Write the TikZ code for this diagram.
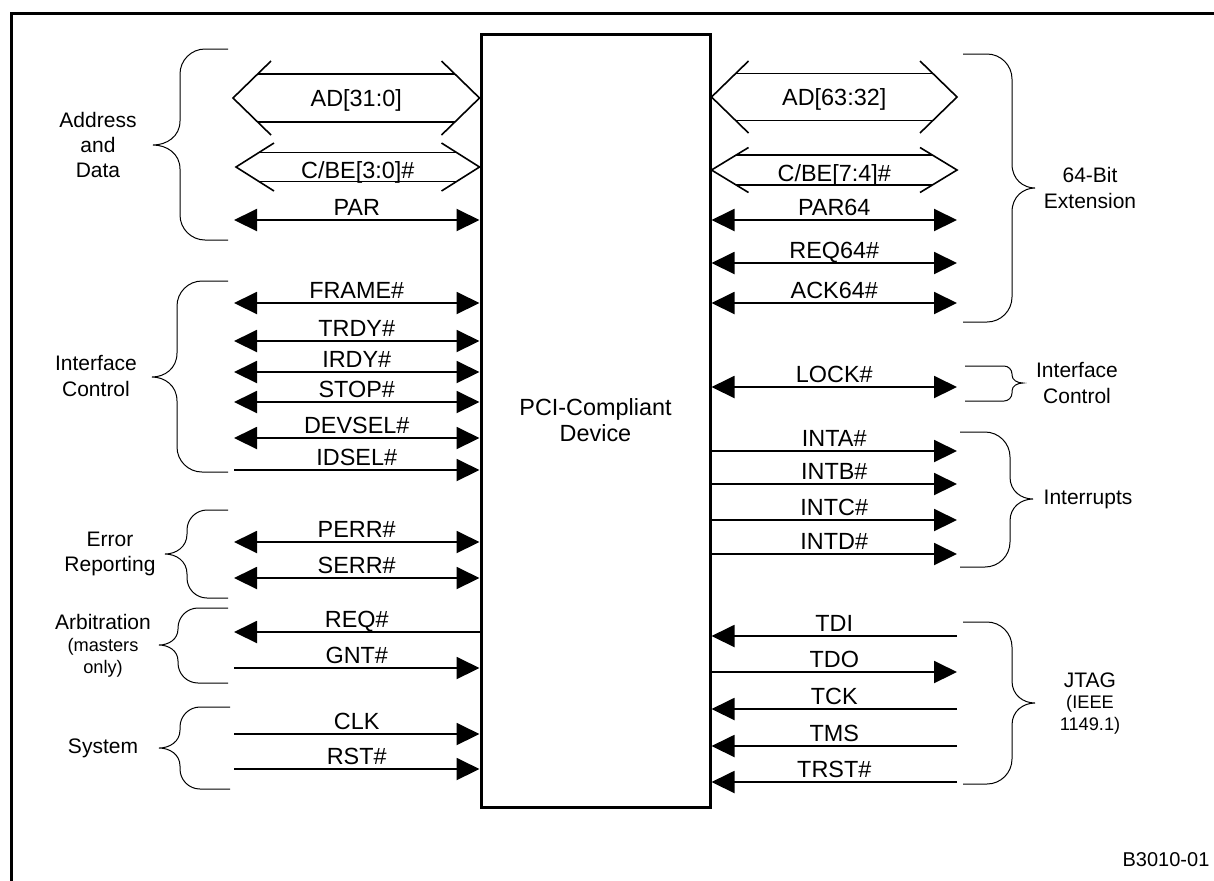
\documentclass[tikz,border=0pt]{standalone}
\usepackage{fontspec}
\setmainfont{Liberation Sans}
\usetikzlibrary{arrows.meta, calc}
\tikzset{
  devbox/.style={rectangle, draw=black, line width=1.5pt,
                 minimum width=114.5pt, minimum height=386.5pt, align=center,
                 font=\fontsize{11.7}{13}\selectfont},
  sigline/.style={line width=1pt, >={Triangle[length=11.5pt, width=11pt]}},
  bothway/.style={<->},
  tobox/.style={->},
  frombox/.style={<-},
  siglabel/.style={anchor=base, yshift=2.5pt, inner sep=0pt,
                   font=\fontsize{11.7}{13}\selectfont},
  buslabel/.style={anchor=base, inner sep=0pt,
                   font=\fontsize{11.7}{13}\selectfont},
  busline/.style={line width=0.8pt},
  bracepath/.style={line width=0.5pt},
  grouplabel/.style={align=center, inner sep=0pt,
                     font=\fontsize{10.5}{12.7}\selectfont},
  notelabel/.style={align=center, inner sep=0pt,
                    font=\fontsize{9.1}{11.2}\selectfont},
  figid/.style={inner sep=0pt, font=\fontsize{10}{12}\selectfont},
  framestyle/.style={line width=1.5pt},
}
% bus: left tip, right tip, arm dx, arm dy, half gap
\newcommand{\drawbus}[5]{%
  \draw[busline] ($(#1)+(#3,-#4)$) -- (#1) -- ($(#1)+(#3,#4)$);
  \draw[busline] ($(#2)+(-#3,-#4)$) -- (#2) -- ($(#2)+(-#3,#4)$);
  \draw[busline] ($(#1)+({#5*#3/#4},-#5)$) -- ($(#2)+({-#5*#3/#4},-#5)$);
  \draw[busline] ($(#1)+({#5*#3/#4},#5)$) -- ($(#2)+({-#5*#3/#4},#5)$);
}
% brace: ends x, spine x, tip x, top y, tip y, bottom y, corner, cusp
\newcommand{\sidebrace}[8]{%
  \pgfmathsetmacro\brs{(#1>#2 ? 1 : -1)*#7}
  \draw[bracepath] (#1,#4) -- ({#2+\brs},#4)
    .. controls ({#2+0.45*\brs},#4) and (#2,{#4+0.45*#7}) .. (#2,{#4+#7})
    -- (#2,{#5-#8})
    .. controls (#2,{#5-0.35*#8}) and ({#2+0.5*(#3-#2)},#5) .. (#3,#5)
    .. controls ({#2+0.5*(#3-#2)},#5) and (#2,{#5+0.35*#8}) .. (#2,{#5+#8})
    -- (#2,{#6-#7})
    .. controls (#2,{#6-0.45*#7}) and ({#2+0.45*\brs},#6) .. ({#2+\brs},#6)
    -- (#1,#6);
}

\begin{document}
\begin{tikzpicture}[x=0.5pt, y=-0.5pt, font=\fontsize{11.7}{13}\selectfont]
    \useasboundingbox (0,0) rectangle (1214,880);
    \draw[framestyle] (11,882) -- (11,13) -- (1216,13);
    \node[devbox] (dev) at (595.5,420.5) {PCI-Compliant\\Device};

    % buses
    \coordinate (adlo-l) at (233,98);
    \coordinate (adlo-r) at (adlo-l -| dev.west);
    \drawbus{adlo-l}{adlo-r}{38}{37}{24}
    \node[buslabel] (adlo) at ($(adlo-l)!0.5!(adlo-r)+(0,8.5)$) {AD[31:0]};
    \coordinate (cbelo-l) at (236,167);
    \coordinate (cbelo-r) at (cbelo-l -| dev.west);
    \drawbus{cbelo-l}{cbelo-r}{38}{24}{14.5}
    \node[buslabel] (cbelo) at ($(cbelo-l)!0.5!(cbelo-r)+(0,11)$) {C/BE[3:0]\#};
    \coordinate (adhi-r) at (957,97);
    \coordinate (adhi-l) at (adhi-r -| dev.east);
    \drawbus{adhi-l}{adhi-r}{37}{36}{23.5}
    \node[buslabel] (adhi) at ($(adhi-l)!0.5!(adhi-r)+(0,8)$) {AD[63:32]};
    \coordinate (cbehi-r) at (957,170);
    \coordinate (cbehi-l) at (cbehi-r -| dev.east);
    \drawbus{cbehi-l}{cbehi-r}{37}{22.5}{15}
    \node[buslabel] (cbehi) at ($(cbehi-l)!0.5!(cbehi-r)+(0,11.5)$) {C/BE[7:4]\#};

    % left signals
    \foreach \y/\txt/\dir [count=\i] in {220/PAR/bothway, 303/FRAME\#/bothway,
        341/TRDY\#/bothway, 372/IRDY\#/bothway, 402/STOP\#/bothway,
        438/DEVSEL\#/bothway, 470/IDSEL\#/tobox, 542/PERR\#/bothway,
        578/SERR\#/bothway, 632/REQ\#/frombox, 668/GNT\#/tobox,
        734/CLK/tobox, 769/RST\#/tobox} {
      \coordinate (l\i) at (234,\y);
      \draw[sigline,\dir] (l\i) -- (l\i -| dev.west) node[siglabel, midway] (ll\i) {\txt};
    }
    % right signals
    \foreach \y/\txt/\dir [count=\i] in {220/PAR64/bothway, 263/REQ64\#/bothway,
        303/ACK64\#/bothway, 387/LOCK\#/bothway, 451/INTA\#/frombox,
        484/INTB\#/frombox, 520/INTC\#/frombox, 554/INTD\#/frombox,
        636/TDI/tobox, 672/TDO/frombox, 709/TCK/tobox, 746/TMS/tobox,
        782/TRST\#/tobox} {
      \coordinate (r\i) at (957,\y);
      \draw[sigline,\dir] (r\i) -- (r\i -| dev.east) node[siglabel, midway] (rl\i) {\txt};
    }

    % braces
    \sidebrace{228}{180}{153}{49}{145}{240}{25}{24}
    \sidebrace{228}{177}{152}{281}{377}{472}{25}{24}
    \sidebrace{228}{187}{165}{510}{554}{598}{20}{20}
    \sidebrace{228}{178}{159}{608}{645}{683}{20}{16}
    \sidebrace{230}{180}{159}{707}{748}{789}{20}{18}
    \sidebrace{963}{1012}{1035}{54}{188}{322}{25}{24}
    \sidebrace{965}{1012}{1023}{366}{383}{401}{8}{8}
    \sidebrace{960}{1010}{1033}{432}{499}{567}{25}{22}
    \sidebrace{963}{1012}{1035}{622}{703}{784}{25}{22}

    % group names
    \node[grouplabel] (addrlbl) at (98,145) {Address\\and\\Data};
    \node[grouplabel] (ifclbl) at (96,376) {Interface\\Control};
    \node[grouplabel] (errlbl) at (110,554) {Error\\Reporting};
    \node[grouplabel] (arblbl) at (103,622) {Arbitration};
    \node[notelabel] (arbnote) at (103,658) {(masters\\only)};
    \node[grouplabel] (syslbl) at (103,748) {System};
    \node[grouplabel] (extlbl) at (1090,188) {64-Bit\\Extension};
    \node[grouplabel] (lockgrp) at (1077,383) {Interface\\Control};
    \node[grouplabel] (intlbl) at (1088,499) {Interrupts};
    \node[grouplabel] (jtaglbl) at (1090,680) {JTAG};
    \node[notelabel] (jtagnote) at (1090,714.5) {(IEEE\\1149.1)};
    \node[figid] (figno) at (1166,860) {B3010-01};
  \end{tikzpicture}
\end{document}
